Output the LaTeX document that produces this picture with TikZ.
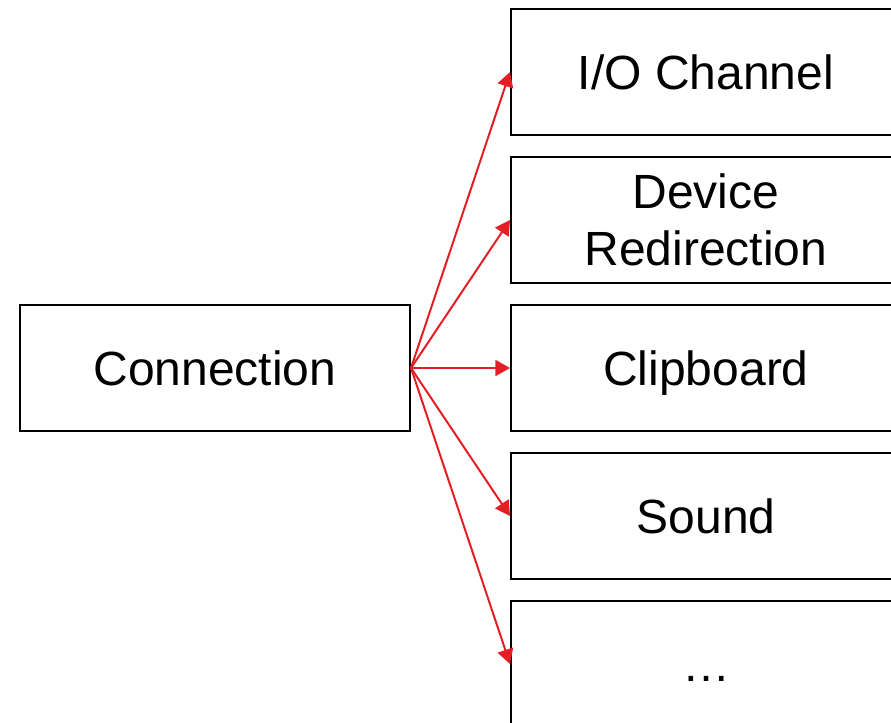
\documentclass[tikz,border=0pt]{standalone}
\usepackage{fontspec}
\setmainfont{Liberation Sans}
\usepackage{xcolor}
\usetikzlibrary{positioning, arrows.meta}
\definecolor{arrowred}{RGB}{228, 30, 36}

\begin{document}
\begin{tikzpicture}[
    x=0.75pt, y=-0.75pt,
    node distance=15pt,
    box/.style={draw, line width=1.5pt, minimum width=292.5pt, minimum height=94.5pt, align=center, inner sep=0pt, font=\fontsize{36}{43.2}\selectfont},
    onebox/.style={box, text height=26pt, text depth=0pt},
    arrow/.style={-{Triangle[length=11pt, width=12pt]}, line width=1.5pt, color=arrowred}
]
    \useasboundingbox (0,0) rectangle (891,722);

    % Source node
    \node[onebox] (conn) at (215,368) {Connection};

    % Channel nodes
    \node[onebox] (clip) at (706,368) {Clipboard};
    \node[box, above=of clip] (device) {Device\\Redirection};
    \node[onebox, above=of device] (io) {I/O Channel};
    \node[onebox, below=of clip] (sound) {Sound};
    \node[onebox, below=of sound] (more) {…};

    % Connections
    \draw[arrow] (conn.east) -- (io.west);
    \draw[arrow] (conn.east) -- (device.west);
    \draw[arrow] (conn.east) -- (clip.west);
    \draw[arrow] (conn.east) -- (sound.west);
    \draw[arrow] (conn.east) -- (more.west);
\end{tikzpicture}
\end{document}
